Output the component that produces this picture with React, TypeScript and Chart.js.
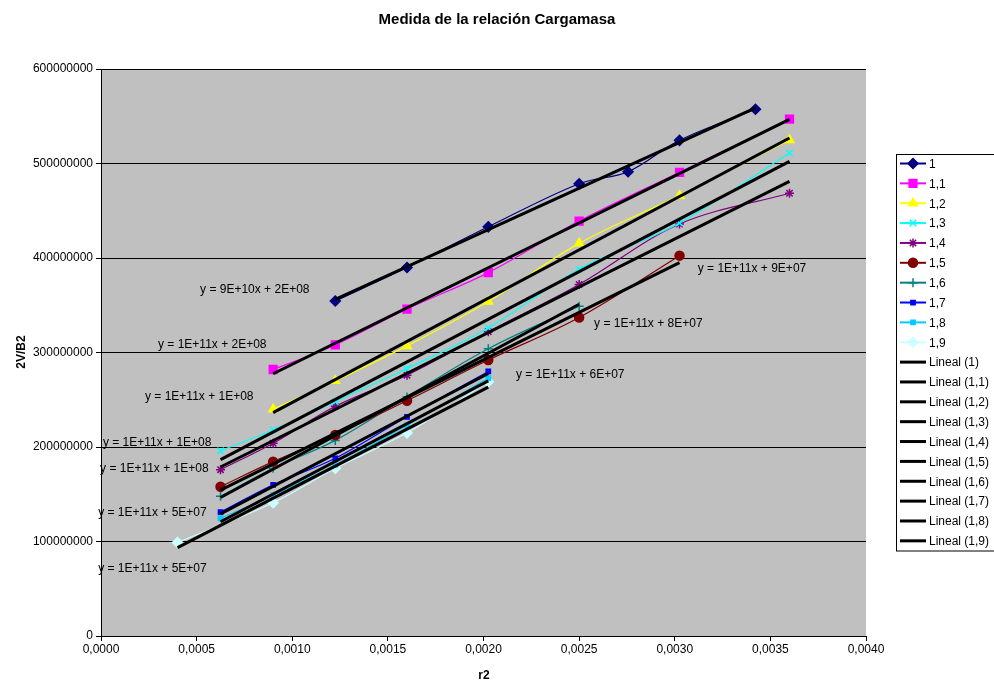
import React, { useEffect, useRef } from 'react';
import { Chart, registerables } from 'chart.js';
import { drawPoint } from 'chart.js/helpers';

Chart.register(...registerables);

// ---- Data (x = r2, y = 2V/B2) ----
const seriesNames = ['1', '1,1', '1,2', '1,3', '1,4', '1,5', '1,6', '1,7', '1,8', '1,9'];

const x1 = [0.001225, 0.0016, 0.002025, 0.0025, 0.002756, 0.003025, 0.003422];
const y1 = [354.5e6, 390e6, 433e6, 478.6e6, 491.3e6, 524.5e6, 557.4e6];

const x11 = [0.0009, 0.001225, 0.0016, 0.002025, 0.0025, 0.003025, 0.0036];
const y11 = [282e6, 308e6, 346e6, 384.5e6, 439e6, 490.7e6, 547e6];

const x12 = [0.0009, 0.001225, 0.0016, 0.002025, 0.0025, 0.003025, 0.0036];
const y12 = [240e6, 270e6, 307e6, 354e6, 415.5e6, 466e6, 525e6];

const x13 = [0.000625, 0.0009, 0.001225, 0.0016, 0.002025, 0.0025, 0.003025, 0.0036];
const y13 = [196e6, 218e6, 248e6, 283e6, 326e6, 388e6, 437e6, 511e6];

const x14 = [0.000625, 0.0009, 0.001225, 0.0016, 0.002025, 0.0025, 0.003025, 0.0036];
const y14 = [176e6, 204e6, 243e6, 276e6, 322e6, 372e6, 436e6, 468.5e6];

const x15 = [0.000625, 0.0009, 0.001225, 0.0016, 0.002025, 0.0025, 0.003025];
const y15 = [158e6, 184.5e6, 212.7e6, 249e6, 292e6, 337e6, 402.5e6];

const x16 = [0.000625, 0.0009, 0.001225, 0.0016, 0.002025, 0.0025];
const y16 = [148e6, 177.5e6, 207e6, 253e6, 304e6, 349e6];

const x17 = [0.000625, 0.0009, 0.001225, 0.0016, 0.002025];
const y17 = [131e6, 160e6, 188e6, 232e6, 280e6];

const x18 = [0.000625, 0.0009, 0.001225, 0.0016, 0.002025];
const y18 = [124.5e6, 149e6, 181e6, 223e6, 273e6];

const x19 = [0.0004, 0.0009, 0.001225, 0.0016, 0.002025];
const y19 = [99e6, 141e6, 177.5e6, 215e6, 269e6];

const seriesX = [x1, x11, x12, x13, x14, x15, x16, x17, x18, x19];
const seriesY = [y1, y11, y12, y13, y14, y15, y16, y17, y18, y19];

const xTicks = [0, 0.0005, 0.001, 0.0015, 0.002, 0.0025, 0.003, 0.0035, 0.004];
const yTicks = [0, 100000000, 200000000, 300000000, 400000000, 500000000, 600000000];

const trendTexts = [
  'y = 9E+10x + 2E+08',
  'y = 1E+11x + 2E+08',
  'y = 1E+11x + 1E+08',
  'y = 1E+11x + 1E+08',
  'y = 1E+11x + 1E+08',
  'y = 1E+11x + 5E+07',
  'y = 1E+11x + 5E+07',
  'y = 1E+11x + 9E+07',
  'y = 1E+11x + 8E+07',
  'y = 1E+11x + 6E+07',
];
// label anchors (left edge, middle) in data units
const trendTextX = [0.000518, 0.000298, 0.00023, 0.00001, -0.000005, -0.000015, -0.000015, 0.00312, 0.002578, 0.00217];
const trendTextY = [366e6, 308e6, 253e6, 205e6, 177e6, 131e6, 71e6, 389e6, 331e6, 276e6];

// ---- Styles ----
const colors = ['#000080', '#FF00FF', '#FFFF00', '#00FFFF', '#800080', '#800000', '#008080', '#0000FF', '#00CCFF', '#CCFFFF'];
const pointStyles = ['rectRot', 'rect', 'triangle', 'crossRot', 'star', 'circle', 'cross', 'rect', 'rect', 'rectRot'];
const pointRadii = [5, 5.5, 5, 4.5, 4.5, 4.5, 4.5, 3, 3, 5];

const FONT = '"Liberation Sans", Arial, sans-serif';

function linReg(xs: number[], ys: number[]) {
  const n = xs.length;
  let sx = 0, sy = 0, sxx = 0, sxy = 0;
  for (let i = 0; i < n; i++) {
    sx += xs[i]; sy += ys[i]; sxx += xs[i] * xs[i]; sxy += xs[i] * ys[i];
  }
  const slope = (n * sxy - sx * sy) / (n * sxx - sx * sx);
  const icpt = (sy - slope * sx) / n;
  const a = Math.min(...xs), b = Math.max(...xs);
  return [{ x: a, y: slope * a + icpt }, { x: b, y: slope * b + icpt }];
}

const decorPlugin = {
  id: 'decor',
  beforeDraw(chart: any) {
    const { ctx, chartArea } = chart;
    ctx.save();
    ctx.fillStyle = '#FFFFFF';
    ctx.fillRect(0, 0, chart.width, chart.height);
    ctx.fillStyle = '#C0C0C0';
    ctx.fillRect(chartArea.left, chartArea.top, chartArea.right - chartArea.left, chartArea.bottom - chartArea.top);
    ctx.restore();
  },
  afterDraw(chart: any) {
    const { ctx } = chart;
    const xs = chart.scales.x, ys = chart.scales.y;
    ctx.save();
    // title
    ctx.fillStyle = '#000';
    ctx.font = `bold 15px ${FONT}`;
    ctx.textAlign = 'center';
    ctx.textBaseline = 'middle';
    ctx.fillText('Medida de la relación Cargamasa', 497, 20);
    // axis titles
    ctx.font = `bold 12px ${FONT}`;
    ctx.fillText('r2', 484, 676);
    ctx.save();
    ctx.translate(22, 352);
    ctx.rotate(-Math.PI / 2);
    ctx.fillText('2V/B2', 0, 0);
    ctx.restore();
    // trend labels
    ctx.font = `12px ${FONT}`;
    ctx.textAlign = 'left';
    for (let i = 0; i < trendTexts.length; i++) {
      ctx.fillText(trendTexts[i], xs.getPixelForValue(trendTextX[i]), ys.getPixelForValue(trendTextY[i]));
    }
    // legend
    const lx = 896.5, ly = 154.5, lh = 396.5;
    ctx.fillStyle = '#FFFFFF';
    ctx.fillRect(lx, ly, 110, lh);
    ctx.strokeStyle = '#000';
    ctx.lineWidth = 1;
    ctx.strokeRect(lx, ly, 110, lh);
    const ds = chart.data.datasets;
    ctx.font = `12px ${FONT}`;
    ctx.textBaseline = 'middle';
    for (let i = 0; i < ds.length; i++) {
      const d = ds[i];
      const cy = 163.5 + i * 19.86;
      ctx.strokeStyle = d.borderColor;
      ctx.lineWidth = d.isTrend ? 3 : 2;
      ctx.beginPath();
      ctx.moveTo(900, cy);
      ctx.lineTo(926, cy);
      ctx.stroke();
      if (!d.isTrend) {
        ctx.fillStyle = d.pointBackgroundColor;
        ctx.strokeStyle = d.pointBorderColor;
        ctx.lineWidth = 1.5;
        drawPoint(ctx, { pointStyle: d.pointStyle, radius: d.pointRadius, rotation: 0, borderWidth: 1.5 }, 913, cy);
      }
      ctx.fillStyle = '#000';
      ctx.fillText(d.label, 929, cy + 1);
    }
    ctx.restore();
  },
};

export default function App() {
  const ref = useRef<HTMLCanvasElement>(null);
  useEffect(() => {
    if (!ref.current) return;
    const datasets: any[] = [];
    for (let i = 0; i < seriesNames.length; i++) {
      datasets.push({
        label: seriesNames[i],
        data: seriesX[i].map((x, j) => ({ x, y: seriesY[i][j] })),
        showLine: true,
        borderColor: colors[i],
        backgroundColor: colors[i],
        pointBackgroundColor: colors[i],
        pointBorderColor: colors[i],
        pointBorderWidth: 1.5,
        borderWidth: 1.2,
        tension: 0.35,
        pointStyle: pointStyles[i],
        pointRadius: pointRadii[i],
        order: 2,
        isTrend: false,
      });
    }
    for (let i = 0; i < seriesNames.length; i++) {
      datasets.push({
        label: `Lineal (${seriesNames[i]})`,
        data: linReg(seriesX[i], seriesY[i]),
        showLine: true,
        borderColor: '#000000',
        backgroundColor: '#000000',
        borderWidth: 3,
        pointRadius: 0,
        tension: 0,
        order: 1,
        isTrend: true,
      });
    }
    const chart = new Chart(ref.current, {
      type: 'scatter',
      data: { datasets },
      options: {
        responsive: false,
        animation: false,
        devicePixelRatio: 1,
        layout: { padding: { left: 0, right: 128, top: 69, bottom: 0 } },
        plugins: { legend: { display: false }, title: { display: false }, tooltip: { enabled: false } },
        scales: {
          x: {
            type: 'linear',
            min: 0,
            max: 0.004,
            afterFit: (s: any) => { s.height = 48; },
            afterBuildTicks: (s: any) => { s.ticks = xTicks.map((v) => ({ value: v })); },
            ticks: {
              color: '#000',
              font: { family: FONT, size: 12 },
              padding: 1,
              maxRotation: 0,
              autoSkip: false,
              callback: (v: any) => Number(v).toFixed(4).replace('.', ','),
            },
            grid: { drawOnChartArea: false, drawTicks: true, tickLength: 5, color: '#000' },
            border: { display: true, color: '#000', width: 1 },
          },
          y: {
            type: 'linear',
            min: 0,
            max: 600000000,
            afterFit: (s: any) => { s.width = 101; },
            afterBuildTicks: (s: any) => { s.ticks = yTicks.map((v) => ({ value: v })); },
            ticks: {
              color: '#000',
              font: { family: FONT, size: 12 },
              padding: 3,
              autoSkip: false,
              callback: (v: any) => String(Math.round(Number(v))),
            },
            grid: { drawOnChartArea: true, drawTicks: true, tickLength: 5, color: '#000', lineWidth: 1 },
            border: { display: true, color: '#000', width: 1 },
          },
        },
      } as any,
      plugins: [decorPlugin],
    });
    return () => chart.destroy();
  }, []);
  return (
    <div style={{ position: 'absolute', left: 0, top: 0, width: 994, height: 684, background: '#fff' }}>
      <canvas ref={ref} width={994} height={684} style={{ display: 'block', width: 994, height: 684 }} />
    </div>
  );
}
